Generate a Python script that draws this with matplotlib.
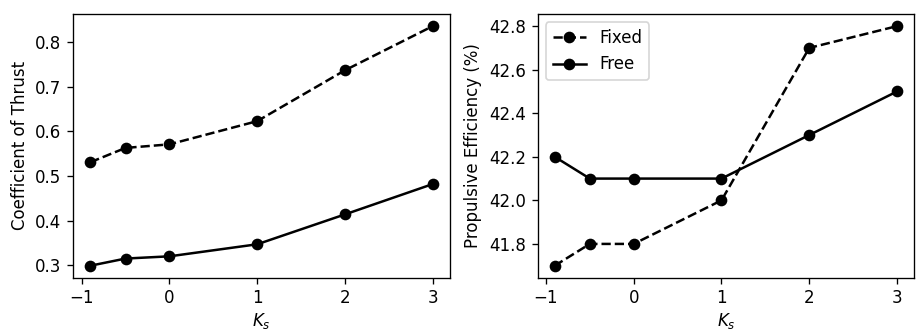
import matplotlib
matplotlib.use("Agg")
import matplotlib.pyplot as plt

# stiffness values
ks = [-0.9, -0.5, 0, 1, 2, 3]

# coefficient of thrust
ct_fixed = [0.531, 0.563, 0.571, 0.623, 0.737, 0.836]
ct_free = [0.299, 0.315, 0.320, 0.347, 0.414, 0.482]

# propulsive efficiency (%)
eff_fixed = [41.7, 41.8, 41.8, 42.0, 42.7, 42.8]
eff_free = [42.2, 42.1, 42.1, 42.1, 42.3, 42.5]

xticks = [-1, 0, 1, 2, 3]

fig, (ax1, ax2) = plt.subplots(1, 2, figsize=(916 / 120, 329 / 120), dpi=120)
fig.subplots_adjust(left=0.080, right=0.998, top=0.957, bottom=0.156, wspace=0.233)

ax1.plot(ks, ct_fixed, "o--", color="black", label="Fixed")
ax1.plot(ks, ct_free, "o-", color="black", label="Free")
ax1.set_xticks(xticks)
ax1.set_xlabel("$K_s$", labelpad=2)
ax1.set_ylabel("Coefficient of Thrust")

ax2.plot(ks, eff_fixed, "o--", color="black", label="Fixed")
ax2.plot(ks, eff_free, "o-", color="black", label="Free")
ax2.set_xticks(xticks)
ax2.set_xlabel("$K_s$", labelpad=2)
ax2.set_ylabel("Propulsive Efficiency (%)")
ax2.legend(loc="upper left")

plt.savefig("out.png", dpi=120)
plt.close()
